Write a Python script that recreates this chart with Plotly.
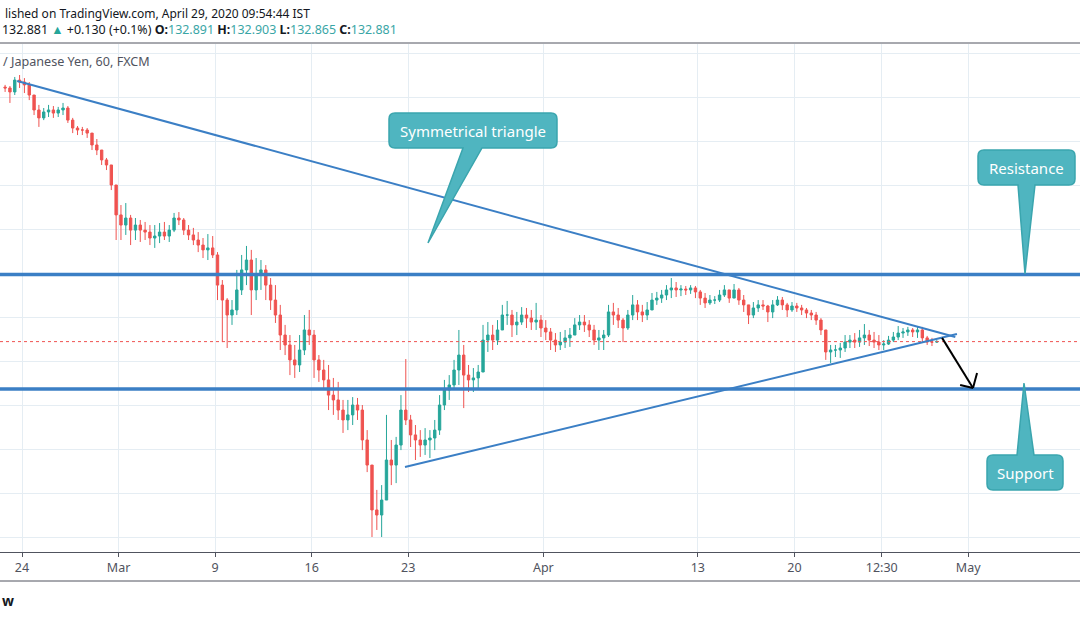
import numpy as np
import pandas as pd
import plotly.graph_objects as go

trading_days = list(pd.bdate_range("2020-02-21", "2020-04-29"))
bar_hours = [0, 6, 12, 18]

first_open = 144.45

high = [
    144.55, 144.50, 144.91, 145.00,
    144.86, 144.68, 143.95, 143.64,
    143.50, 143.64, 143.59, 143.55,
    143.73, 143.59, 143.05, 142.68,
    142.64, 142.59, 142.14, 142.09,
    141.59, 141.23, 140.68, 139.32,
    139.09, 139.18, 138.64, 138.50,
    138.41, 138.32, 138.18, 138.18,
    138.27, 138.32, 138.18, 138.73,
    138.77, 138.50, 138.18, 138.05,
    137.86, 137.59, 137.77, 137.68,
    136.95, 135.68, 134.86, 134.77,
    136.14, 136.82, 137.23, 137.05,
    136.68, 136.59, 136.36, 135.77,
    135.45, 134.55, 133.64, 133.18,
    132.73, 133.18, 134.09, 134.32,
    133.41, 132.27, 132.05, 131.82,
    131.23, 131.05, 130.23, 130.23,
    130.36, 130.32, 130.00, 128.86,
    126.59, 126.14, 126.36, 129.55,
    128.41, 128.55, 130.45, 132.09,
    129.55, 129.09, 128.86, 128.95,
    128.86, 129.32, 130.45, 131.14,
    131.36, 132.05, 133.41, 132.73,
    131.82, 131.68, 131.82, 133.64,
    133.77, 133.64, 133.86, 134.55,
    134.73, 134.32, 134.23, 134.45,
    134.41, 134.32, 134.64, 134.09,
    133.86, 133.50, 133.27, 133.32,
    133.41, 133.50, 133.95, 134.09,
    134.09, 133.86, 133.64, 133.41,
    133.41, 134.55, 134.64, 134.41,
    133.95, 134.32, 135.00, 134.77,
    134.55, 134.68, 135.09, 135.14,
    135.23, 135.45, 135.77, 135.59,
    135.45, 135.41, 135.45, 135.41,
    135.23, 135.09, 135.00, 134.95,
    135.23, 135.45, 135.23, 135.50,
    135.32, 135.00, 134.55, 134.68,
    134.77, 134.77, 134.55, 134.77,
    134.95, 134.91, 134.64, 134.68,
    134.64, 134.55, 134.41, 134.32,
    134.23, 133.95, 133.18, 132.73,
    132.73, 132.82, 133.18, 133.18,
    133.27, 133.41, 133.68, 133.41,
    133.32, 133.18, 132.95, 133.14,
    133.32, 133.59, 133.50, 133.55,
    133.50, 133.59, 133.55, 133.14,
    133.05, 132.95,
]

low = [
    144.23, 143.73, 144.09, 144.41,
    144.18, 143.86, 143.18, 142.64,
    142.95, 143.09, 143.05, 143.09,
    143.18, 142.82, 142.36, 142.27,
    142.27, 142.14, 141.59, 141.36,
    140.91, 140.68, 139.77, 137.50,
    137.50, 137.73, 137.27, 137.50,
    137.41, 137.50, 137.27, 137.14,
    137.36, 137.50, 137.41, 137.86,
    138.18, 137.73, 137.50, 137.27,
    136.95, 136.68, 136.59, 136.68,
    134.77, 132.86, 132.59, 133.64,
    134.09, 135.00, 135.45, 134.09,
    134.77, 135.23, 134.77, 134.32,
    133.73, 132.50, 132.27, 131.36,
    131.23, 131.50, 132.27, 132.73,
    131.23, 131.05, 130.68, 129.77,
    129.55, 129.32, 128.73, 128.86,
    129.09, 129.32, 127.95, 126.95,
    124.00, 124.32, 124.00, 126.14,
    126.36, 126.45, 127.95, 129.09,
    128.09, 127.50, 127.64, 127.73,
    127.59, 127.95, 128.64, 129.77,
    130.23, 130.68, 130.91, 129.86,
    130.59, 130.59, 130.68, 132.05,
    132.41, 132.50, 132.73, 133.41,
    133.64, 133.09, 133.18, 133.64,
    133.50, 133.41, 133.41, 133.09,
    132.95, 132.50, 132.41, 132.50,
    132.59, 132.64, 133.18, 133.41,
    133.32, 133.09, 132.73, 132.50,
    132.50, 133.09, 133.64, 133.50,
    132.86, 133.41, 133.86, 133.86,
    133.77, 133.86, 134.32, 134.55,
    134.64, 134.77, 134.86, 134.91,
    134.95, 135.00, 135.05, 134.86,
    134.55, 134.41, 134.55, 134.59,
    134.68, 134.91, 134.64, 134.86,
    134.55, 134.23, 133.68, 133.95,
    134.23, 134.32, 133.77, 133.95,
    134.50, 134.32, 134.00, 134.23,
    134.23, 134.09, 133.95, 133.86,
    133.64, 133.18, 132.05, 131.91,
    132.18, 132.14, 132.41, 132.59,
    132.59, 132.64, 132.73, 132.68,
    132.59, 132.50, 132.50, 132.73,
    132.86, 132.95, 133.05, 133.14,
    133.09, 133.05, 132.82, 132.73,
    132.68, 132.82,
]

close = [
    144.41, 144.23, 144.77, 144.68,
    144.55, 144.09, 143.41, 143.05,
    143.32, 143.41, 143.27, 143.41,
    143.50, 142.95, 142.59, 142.50,
    142.50, 142.36, 141.82, 141.59,
    141.14, 140.91, 140.00, 138.64,
    138.18, 138.50, 137.95, 138.18,
    137.95, 137.86, 137.59, 137.68,
    137.86, 137.68, 137.95, 138.50,
    138.41, 137.95, 137.73, 137.50,
    137.27, 137.05, 137.14, 136.82,
    135.45, 134.77, 134.09, 134.32,
    135.23, 136.14, 136.59, 135.23,
    135.91, 136.14, 135.45, 134.77,
    134.09, 133.18, 132.73, 132.05,
    131.82, 132.50, 133.41, 133.18,
    132.05, 131.59, 131.14, 130.45,
    130.23, 129.77, 129.32, 129.55,
    130.00, 129.77, 128.41, 127.27,
    125.23, 125.00, 125.68, 127.50,
    127.27, 128.18, 129.77, 129.32,
    128.64, 128.41, 128.18, 128.41,
    128.50, 128.86, 130.00, 130.68,
    130.91, 131.59, 132.27, 131.36,
    131.14, 131.23, 131.50, 132.95,
    133.18, 132.95, 133.41, 134.09,
    134.09, 133.64, 133.77, 134.09,
    133.95, 133.77, 133.86, 133.50,
    133.32, 132.95, 132.73, 132.86,
    133.05, 133.18, 133.64, 133.77,
    133.64, 133.41, 132.95, 133.05,
    133.18, 134.23, 134.09, 133.86,
    133.50, 134.09, 134.55, 134.23,
    134.09, 134.32, 134.77, 134.86,
    135.00, 135.23, 135.32, 135.23,
    135.27, 135.23, 135.32, 135.14,
    134.86, 134.64, 134.77, 134.77,
    135.00, 135.23, 134.86, 135.23,
    134.77, 134.55, 134.09, 134.41,
    134.55, 134.50, 134.23, 134.55,
    134.77, 134.55, 134.32, 134.50,
    134.41, 134.32, 134.18, 134.09,
    133.86, 133.41, 132.41, 132.50,
    132.50, 132.59, 132.86, 132.95,
    132.86, 133.05, 133.18, 132.95,
    132.86, 132.73, 132.77, 132.95,
    133.09, 133.27, 133.32, 133.41,
    133.32, 133.41, 133.05, 132.86,
    132.86, 132.881,
]

# chart drawings (time, price) anchors
resistance_level = 135.93
support_level = 130.73
upper_trend = [("2020-02-21 18:00", 144.73), ("2020-04-30 08:00", 133.09)]
lower_trend = [("2020-03-20 20:00", 127.18), ("2020-04-30 10:00", 133.23)]

tick_times = ["2020-02-24", "2020-03-02", "2020-03-09", "2020-03-16", "2020-03-23",
              "2020-04-01", "2020-04-13", "2020-04-20", "2020-04-24 12:30", "2020-05-01"]
tick_labels = ["24", "Mar", "9", "16", "23", "Apr", "13", "20", "12:30", "May"]

# ---------------- build ----------------
BASE = np.datetime64("2020-02-24")


def tday(ts):
    """trading-day index (weekends removed) relative to Feb 24, 2020"""
    t = pd.Timestamp(ts)
    d = np.datetime64(t.normalize().date())
    n = np.busday_count(BASE, d) if d >= BASE else -np.busday_count(d, BASE)
    return float(n) + (t - t.normalize()).total_seconds() / 86400.0


times = []
for day in trading_days:
    for h in bar_hours:
        times.append(day + pd.Timedelta(hours=h + 3))
times = times[:len(close)]
xs = [tday(t) for t in times]

opens = [first_open] + close[:-1]
hi = [max(h, o, c) for h, o, c in zip(high, opens, close)]
lo = [min(l, o, c) for l, o, c in zip(low, opens, close)]

W, H = 1080, 618
PLOT_TOP, PLOT_BOTTOM = 44, 552
PX0, PX_PER_DAY = 22.0, 19.31


def X(px):
    return px / W


def Y(py):
    return (PLOT_BOTTOM - py) / (PLOT_BOTTOM - PLOT_TOP)


x_range = [-PX0 / PX_PER_DAY, (W - PX0) / PX_PER_DAY]
y_range = [132 - (PLOT_BOTTOM - 361) / 22.0, 132 + (361 - PLOT_TOP) / 22.0]

GREEN, RED = "#26a69a", "#ef5350"
VAL = "#3aa6a6"
BLUE = "#3b7fc5"
TEAL_FILL, TEAL_LINE = "#4fb5c0", "#3aa5ae"
GRID = "#e5edf3"
FONT = "Noto Sans"

fig = go.Figure(go.Candlestick(
    x=xs, open=opens, high=hi, low=lo, close=close,
    increasing=dict(line=dict(color=GREEN, width=1), fillcolor=GREEN),
    decreasing=dict(line=dict(color=RED, width=1), fillcolor=RED),
    whiskerwidth=0, hoverinfo="skip",
))

shapes = []
# horizontal levels
for lvl in (resistance_level, support_level):
    shapes.append(dict(type="line", xref="paper", yref="y", x0=0, x1=1, y0=lvl, y1=lvl,
                       line=dict(color=BLUE, width=3.5)))
# last price dotted line
shapes.append(dict(type="line", xref="paper", yref="y", x0=0, x1=1, y0=close[-1], y1=close[-1],
                   line=dict(color=RED, width=1, dash="dot")))
# trend lines
for (t0, p0), (t1, p1) in (upper_trend, lower_trend):
    shapes.append(dict(type="line", xref="x", yref="y", x0=tday(t0), y0=p0, x1=tday(t1), y1=p1,
                       line=dict(color=BLUE, width=2)))

# arrow (breakdown projection)
arrow_start = ("2020-04-29 15:30", 133.05)
arrow_tip = ("2020-05-01 06:00", 130.77)
arrow_wing1 = ("2020-04-30 14:00", 130.91)
arrow_wing2 = ("2020-05-01 11:00", 131.45)
for a, b in ((arrow_start, arrow_tip), (arrow_wing1, arrow_tip), (arrow_wing2, arrow_tip)):
    shapes.append(dict(type="line", xref="x", yref="y", x0=tday(a[0]), y0=a[1], x1=tday(b[0]), y1=b[1],
                       line=dict(color="#000000", width=2)))

# frame lines
shapes.append(dict(type="line", xref="paper", yref="paper", x0=0, x1=1, y0=Y(43), y1=Y(43),
                   line=dict(color="#50535e", width=1)))
shapes.append(dict(type="line", xref="paper", yref="paper", x0=0, x1=1, y0=Y(581), y1=Y(581),
                   line=dict(color="#50535e", width=1)))


def callout(left, top, right, bottom, side, a, tip, b, r=6):
    def P(px, py):
        return f"{X(px):.5f},{Y(py):.5f}"
    s = f"M {P(left + r, top)} "
    if side == "top":
        s += f"L {P(a, top)} L {P(tip[0], tip[1])} L {P(b, top)} "
    s += f"L {P(right - r, top)} Q {P(right, top)} {P(right, top + r)} "
    s += f"L {P(right, bottom - r)} Q {P(right, bottom)} {P(right - r, bottom)} "
    if side == "bottom":
        s += f"L {P(b, bottom)} L {P(tip[0], tip[1])} L {P(a, bottom)} "
    s += f"L {P(left + r, bottom)} Q {P(left, bottom)} {P(left, bottom - r)} "
    s += f"L {P(left, top + r)} Q {P(left, top)} {P(left + r, top)} Z"
    return dict(type="path", xref="paper", yref="paper", path=s,
                fillcolor=TEAL_FILL, line=dict(color=TEAL_LINE, width=1.5), layer="above")


shapes.append(callout(389, 113, 557, 148, "bottom", 463, (428, 243), 482))
shapes.append(callout(978, 150, 1075, 185, "bottom", 1018, (1025, 274), 1035))
shapes.append(callout(987, 455, 1063, 490, "top", 1017, (1024, 383), 1034))

annotations = []


def label(text, px, py, size, color="#131722", anchor="left", family=FONT):
    annotations.append(dict(text=text, x=X(px), y=Y(py), xref="paper", yref="paper",
                            xanchor=anchor, yanchor="middle", showarrow=False,
                            font=dict(size=size, color=color, family=family)))


label("Symmetrical triangle", 473, 131, 15, "white", "center")
label("Resistance", 1026.5, 168, 15, "white", "center")
label("Support", 1025, 473, 15, "white", "center")

# header texts (the published snapshot is cropped on the left; only the visible parts are kept)
label("lished on TradingView.com, April 29, 2020 09:54:44 IST", 3, 13, 12.0, "#131722", "left")
hdr = ("132.881 <span style='color:%s'>▲</span> +0.130 (+0.1%%) "
       "<b>O:</b><span style='color:%s'>132.891</span> <b>H:</b><span style='color:%s'>132.903</span> "
       "<b>L:</b><span style='color:%s'>132.865</span> <b>C:</b><span style='color:%s'>132.881</span>"
       % (GREEN, VAL, VAL, VAL, VAL))
label(hdr, 0, 29, 12.45, "#131722", "left")
label("/ Japanese Yen, 60, FXCM", 1, 61, 12.6, "#50535e", "left")
label("<b>w</b>", 0, 600, 14, "#131722", "left")

fig.update_layout(
    width=W, height=H,
    margin=dict(l=0, r=0, t=PLOT_TOP, b=H - PLOT_BOTTOM, pad=0),
    paper_bgcolor="white", plot_bgcolor="white",
    showlegend=False,
    font=dict(family=FONT, color="#131722"),
    shapes=shapes, annotations=annotations,
    xaxis=dict(range=x_range, tickmode="array", tickvals=[tday(t) for t in tick_times],
               ticktext=tick_labels, showgrid=True, gridcolor=GRID, gridwidth=1,
               showline=True, linecolor="#50535e", linewidth=1, ticks="outside",
               ticklen=4, tickcolor="#50535e", tickfont=dict(size=12.5, color="#50535e", family=FONT),
               zeroline=False, rangeslider=dict(visible=False), fixedrange=True),
    yaxis=dict(range=y_range, tick0=0, dtick=2, showgrid=True, gridcolor=GRID, gridwidth=1,
               showticklabels=False, zeroline=False, ticks="", fixedrange=True),
)

fig.write_html("out.html", config={"displayModeBar": False},
               post_script="document.body.style.margin='0';document.body.style.overflow='hidden';")
